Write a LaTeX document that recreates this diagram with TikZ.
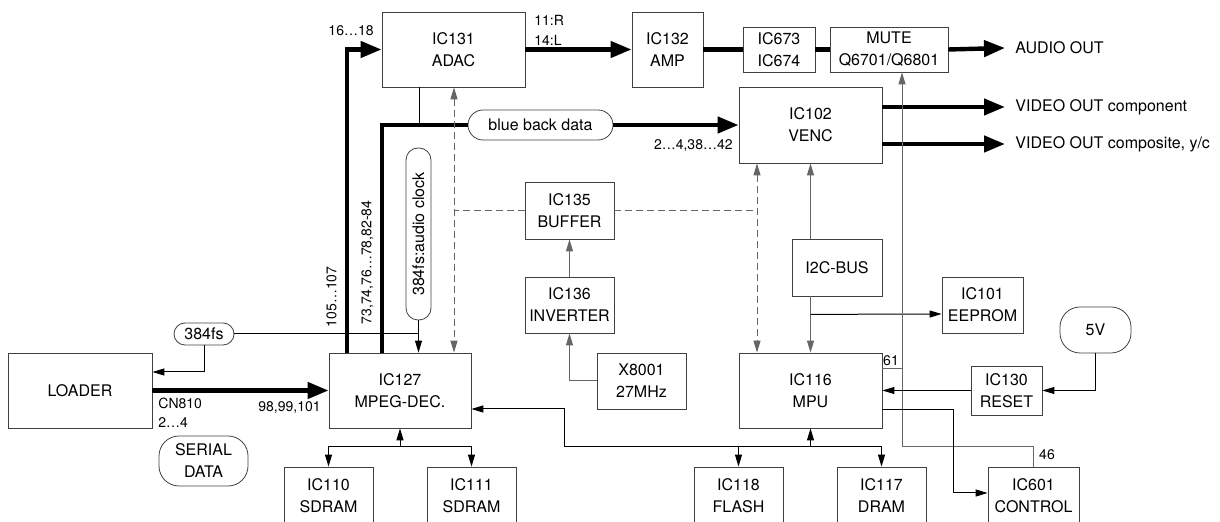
\documentclass[tikz,border=0pt]{standalone}
\usepackage{fontspec}
\setmainfont{TeX Gyre Heros}
\usetikzlibrary{arrows.meta,calc}

\begin{document}
\begin{tikzpicture}[
  x=0.5pt, y=-0.5pt,
  every node/.style={font=\fontsize{8}{11}\selectfont},
  blk/.style={draw=black!75,align=center,inner sep=1pt},
  pill/.style={draw=black!75,align=center,inner sep=1pt,rounded corners=#1},
  pill/.default=6pt,
  pin/.style={font=\fontsize{7}{9}\selectfont,inner sep=1pt},
  outlbl/.style={anchor=west,inner xsep=5pt,inner ysep=1pt},
  bus/.style={line width=2.2pt},
  wire/.style={line width=0.5pt},
  gwire/.style={line width=0.5pt,draw=black!60},
  dline/.style={line width=0.5pt,draw=black!60,dash pattern=on 3.5pt off 2pt},
  bigarr/.style={-{Triangle[length=10.5pt,width=8pt]}},
  arr/.style={-{Triangle[length=6pt,width=3.5pt]}},
  arrs/.style={{Triangle[length=6pt,width=3.5pt]}-{Triangle[length=6pt,width=3.5pt]}},
]
  \useasboundingbox (0,0) rectangle (1220,522);
  \clip (0,0) rectangle (1220,522);

  % Audio / video blocks
  \node[blk,minimum width=71.5pt,minimum height=37.5pt] (adac) at (453.5,49.5) {IC131\\ADAC};
  \node[blk,minimum width=35.5pt,minimum height=37.5pt] (amp) at (667.5,49.5) {IC132\\AMP};
  \node[blk,minimum width=36pt,minimum height=22.5pt] (opamp) at (779,49.5) {IC673\\IC674};
  \node[blk,minimum width=59pt,minimum height=22.5pt] (mute) at (889,49.5) {MUTE\\Q6701/Q6801};
  \node[blk,minimum width=71.5pt,minimum height=38pt] (venc) at (810.5,125) {IC102\\VENC};

  % Clock and control blocks
  \node[blk,minimum width=44.5pt,minimum height=28.5pt] (buffer) at (569.5,210.5) {IC135\\BUFFER};
  \node[blk,minimum width=44.5pt,minimum height=28pt] (inverter) at (569.5,305) {IC136\\INVERTER};
  \node[blk,minimum width=45pt,minimum height=28.5pt] (i2c) at (837,267.5) {I2C-BUS};
  \node[blk,minimum width=40.5pt,minimum height=28pt] (eeprom) at (982.5,305) {IC101\\EEPROM};
  \node[blk,minimum width=72pt,minimum height=37.5pt] (loader) at (80,390.5) {LOADER};
  \node[blk,minimum width=71pt,minimum height=37.5pt] (mpeg) at (400,390.5) {IC127\\MPEG-DEC.};
  \node[blk,minimum width=44.5pt,minimum height=28pt] (xtal) at (641.5,381) {X8001\\27MHz};
  \node[blk,minimum width=71.5pt,minimum height=37.5pt] (mpu) at (810.5,390.5) {IC116\\MPU};
  \node[blk,minimum width=35.5pt,minimum height=24.5pt] (reset) at (1006.5,390.5) {IC130\\RESET};

  % Memories
  \node[blk,minimum width=44.5pt,minimum height=29pt] (sdramA) at (328.5,496) {IC110\\SDRAM};
  \node[blk,minimum width=44.5pt,minimum height=29pt] (sdramB) at (471.5,496) {IC111\\SDRAM};
  \node[blk,minimum width=44.5pt,minimum height=29pt] (flash) at (738.5,496) {IC118\\FLASH};
  \node[blk,minimum width=44.5pt,minimum height=29pt] (dram) at (881.5,496) {IC117\\DRAM};
  \node[blk,minimum width=45.5pt,minimum height=29pt] (control) at (1033.5,496) {IC601\\CONTROL};

  % Signal tags
  \node[pill=7.5pt,minimum width=72.5pt,minimum height=15pt] (bbd) at (540.5,125) {blue back data};
  \node[pill=6pt,rotate=90,minimum width=86pt,minimum height=12.5pt] (clk) at (418.5,234) {384fs:audio clock};
  \node[pill=5.5pt,minimum width=30pt,minimum height=11pt] (fs) at (204,334) {384fs};
  \node[pill=10pt,minimum width=44.5pt,minimum height=25pt] (serial) at (203.5,461) {SERIAL\\DATA};
  \node[pill=10pt,minimum width=35.5pt,minimum height=23pt] (fivev) at (1095.5,330) {5V};

  % Pin numbers
  \node[pin,anchor=east] (pinA) at (376,31) {16…18};
  \node[pin,anchor=west] (pinR) at (532,20.5) {11:R};
  \node[pin,anchor=west] (pinL) at (532,40.5) {14:L};
  \node[pin,anchor=east] (pinV) at (735,146) {2…4,38…42};
  \node[pin,rotate=90] (pinD) at (331.5,297) {105…107};
  \node[pin,rotate=90] (pinE) at (367.5,262.5) {73,74,76…78,82-84};
  \node[pin,anchor=west] (pinC) at (156,403) {CN810};
  \node[pin,anchor=west] (pinF) at (156,423) {2…4};
  \node[pin,anchor=east] (pinM) at (323,408) {98,99,101};
  \node[pin] (pin61) at (891,361) {61};
  \node[pin] (pin46) at (1047,455) {46};

  % Outputs
  \node[outlbl] (aout) at (1005,48) {AUDIO OUT};
  \node[outlbl] (vcomp) at (1005,107) {VIDEO OUT component};
  \node[outlbl] (vcvbs) at (1005,144) {VIDEO OUT composite, y/c};

  % Routing columns and rows
  \coordinate (cA) at (347,0);
  \coordinate (cB) at (382,0);
  \coordinate (cT) at (419,0);
  \coordinate (cD) at (454,0);
  \coordinate (cE) at (757,0);
  \coordinate (cX) at (564,0);
  \coordinate (cM) at (902,0);
  \coordinate (rB) at (0,447);
  \coordinate (cK) at (953,493);

  % Audio and video paths
  \draw[bus,bigarr] (adac.east) -- (amp.west);
  \draw[bus] (amp.east) -- (opamp.west);
  \draw[bus] (opamp.east) -- (mute.west);
  \draw[bus,bigarr] (mute.east) -- (aout.west);
  \draw[bus,bigarr] ($(venc.east)+(0,-18)$) -- (vcomp.west);
  \draw[bus,bigarr] ($(venc.east)+(0,19)$) -- (vcvbs.west);

  % Data buses
  \draw[bus,bigarr] (mpeg.north -| cA) |- (adac.west);
  \draw[bus] (mpeg.north -| cB) |- (bbd.west);
  \draw[bus,bigarr] (bbd.east) -- (venc.west);
  \draw[wire] (adac.south -| cT) -- (cT |- bbd.west);
  \draw[bus,bigarr] (loader.east) -- (mpeg.west);

  % Clocks
  \draw[dline,arrs] (adac.south -| cD) -- (mpeg.north -| cD);
  \draw[dline] (buffer.west) -- (buffer.west -| cD);
  \draw[dline] (buffer.east) -- (buffer.east -| cE);
  \draw[dline,arrs] (venc.south -| cE) -- (mpu.north -| cE);
  \draw[gwire,arr] (inverter.north) -- (buffer.south);
  \draw[gwire,arr] (xtal.west) -| (inverter.south);
  \draw[wire,arr] (clk.west) -- (clk.west |- mpeg.north);
  \draw[wire] (fs.east) -- (fs.east -| clk.west);
  \draw[wire,arr] (fs.south) |- ($(loader.east)+(0,-18.5)$);

  % Control
  \draw[gwire,arr] (venc.south |- i2c.north) -- (venc.south);
  \draw[gwire,arr] (mpu.north |- i2c.south) -- (mpu.north);
  \draw[wire,arr] ($(mpu.north |- i2c.south)+(0,18)$) -- ($(eeprom.west)+(0,9)$);
  \draw[gwire,arr] (control.north) |- (cM |- rB) -- (mute.south -| cM);
  \draw[gwire] ($(mpu.east)+(0,-21.5)$) -- ++(20,0);
  \draw[wire,arr] (fivev.south) |- (reset.east);
  \draw[wire,arr] (reset.west) -- (reset.west -| mpu.east);
  \draw[wire,arr] ($(mpu.east)+(0,19.5)$) -| (cK) -- (cK -| control.west);

  % Memory buses
  \draw[wire,arr] (mpeg.south |- rB) -- (mpeg.south);
  \draw[wire,arr] (mpeg.south |- rB) -| (sdramA.north);
  \draw[wire,arr] (mpeg.south |- rB) -| (sdramB.north);
  \draw[wire,arr] (cX |- rB) |- ($(mpeg.east)+(0,18.5)$);
  \draw[wire,arr] (cX |- rB) -| (dram.north);
  \draw[wire,arr] (flash.north |- rB) -- (flash.north);
  \draw[wire,arr] (mpu.south |- rB) -- (mpu.south);
\end{tikzpicture}
\end{document}
